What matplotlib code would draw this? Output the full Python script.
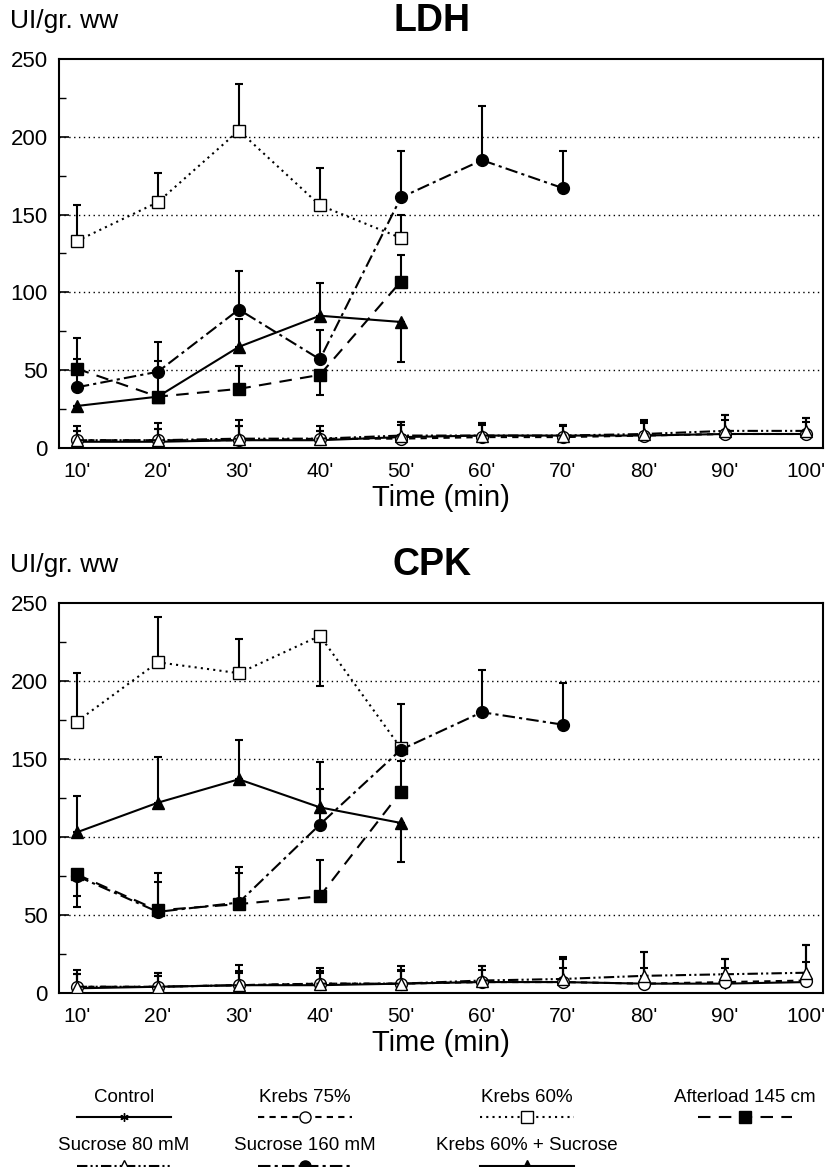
import matplotlib
matplotlib.use("Agg")
import matplotlib.pyplot as plt
import numpy as np

# LDH / CPK release over time, 7 perfusion groups

# time points (min)
t_all = [10, 20, 30, 40, 50, 60, 70, 80, 90, 100]
t_50 = [10, 20, 30, 40, 50]
t_70 = [10, 20, 30, 40, 50, 60, 70]
tick_labels = ["10'", "20'", "30'", "40'", "50'", "60'", "70'", "80'", "90'", "100'"]

# LDH (signed error: + drawn up, - drawn down)
ldh_control = [4, 4, 5, 5, 7, 8, 8, 8, 9, 9]
ldh_control_err = [7, 8, 9, 6, 8, 7, 6, 8, 9, 8]
ldh_krebs75 = [5, 5, 5, 6, 6, 7, 7, 8, 9, 9]
ldh_krebs75_err = [9, 11, 13, 8, 11, 9, 8, 10, 12, 10]
ldh_suc80 = [5, 5, 6, 6, 8, 8, 8, 9, 11, 11]
ldh_suc80_err = [6, 7, 8, 5, 9, 8, 7, 8, 10, 8]
ldh_krebs60 = [133, 158, 204, 156, 135]
ldh_krebs60_err = [23, 19, 30, 24, 15]
ldh_after = [51, 33, 38, 47, 107]
ldh_after_err = [6, 0, 15, -13, 17]
ldh_suc160 = [39, 49, 89, 57, 161, 185, 167]
ldh_suc160_err = [32, 19, 25, 19, 30, 35, 24]
ldh_k60suc = [27, 33, 65, 85, 81]
ldh_k60suc_err = [0, 23, 18, 21, -26]

# CPK
cpk_control = [3, 4, 5, 5, 6, 7, 7, 6, 6, 7]
cpk_control_err = [9, 9, 8, 9, 9, 8, 9, 10, 10, 13]
cpk_krebs75 = [4, 4, 5, 6, 6, 7, 7, 6, 7, 8]
cpk_krebs75_err = [11, 9, 13, 10, 11, 10, 16, 20, 15, 23]
cpk_suc80 = [4, 4, 5, 6, 6, 8, 9, 11, 12, 13]
cpk_suc80_err = [8, 7, 9, 7, 8, 9, 13, 15, 10, 18]
cpk_krebs60 = [174, 212, 205, 229, 157]
cpk_krebs60_err = [31, 29, 22, -32, 0]
cpk_after = [76, 53, 57, 62, 129]
cpk_after_err = [-14, 18, 20, 23, 20]
cpk_suc160 = [75, 52, 58, 108, 156, 180, 172]
cpk_suc160_err = [-20, 25, 23, 23, 29, 27, 27]
cpk_k60suc = [103, 122, 137, 119, 109]
cpk_k60suc_err = [23, 29, 25, 29, -25]

# series styles: label, linestyle, marker, facecolor
styles = {
    "control": ("Control", "-", (6, 2, 0), "k"),
    "krebs75": ("Krebs 75%", (0, (3, 2.5)), "o", "white"),
    "krebs60": ("Krebs 60%", (0, (1, 2)), "s", "white"),
    "after": ("Afterload 145 cm", (0, (6, 4)), "s", "k"),
    "suc80": ("Sucrose 80 mM", (0, (5, 1.5, 1, 1.5, 1, 1.5)), "^", "white"),
    "suc160": ("Sucrose 160 mM", (0, (6, 2, 1.5, 2)), "o", "k"),
    "k60suc": ("Krebs 60% + Sucrose", "-", "^", "k"),
}

plt.rcParams['font.family'] = ["Liberation Sans", "DejaVu Sans"]

W, H = 826, 1167
fig = plt.figure(figsize=(W / 100, H / 100), dpi=100)


def pax(x0, y0, x1, y1):
    # pixel box -> figure axes
    return fig.add_axes([x0 / W, 1 - y1 / H, (x1 - x0) / W, (y1 - y0) / H])


def draw_series(ax, key, t, y, err, lw=1.5):
    label, ls, mk, fc = styles[key]
    err = np.array(err, dtype=float)
    up = np.where(err > 0, err, 0)
    dn = np.where(err < 0, -err, 0)
    ax.errorbar(t, y, yerr=[dn, up], fmt="none", ecolor="k", elinewidth=1.5,
                capsize=3, capthick=1.5, zorder=3)
    ms = 8.5 if mk != (6, 2, 0) else 7
    ax.plot(t, y, linestyle=ls, color="k", lw=lw, marker=mk, markersize=ms,
            markerfacecolor=fc, markeredgecolor="k", markeredgewidth=1, zorder=4)


def panel(box, title, data):
    ax = pax(*box)
    for key, t, y, e in data:
        draw_series(ax, key, t, y, e)
    ax.set_xlim(7.8, 102.1)
    ax.set_ylim(0, 250)
    ax.set_yticks([0, 50, 100, 150, 200, 250])
    ax.set_yticks([25, 75, 125, 175, 225], minor=True)
    ax.set_xticks(t_all)
    ax.set_xticklabels(tick_labels, fontsize=15)
    ax.tick_params(axis="y", direction="in", length=7, width=1.2, labelsize=16, pad=8)
    ax.tick_params(axis="y", which="minor", direction="in", length=5, width=1)
    ax.tick_params(axis="x", length=0, pad=10)
    for yg in [50, 100, 150, 200]:
        ax.axhline(yg, color="k", lw=1, ls=(0, (1, 2.5)), zorder=1)
    for s in ax.spines.values():
        s.set_linewidth(1.5)
    ax.set_xlabel("Time (min)", fontsize=21, labelpad=2)
    y0 = box[1]
    fig.text(10 / W, 1 - (y0 - 38) / H, "UI/gr. ww", fontsize=19, va="center", ha="left")
    fig.text(432 / W, 1 - (y0 - 38) / H, title, fontsize=27, fontweight="bold",
             va="center", ha="center")
    return ax


ldh_data = [
    ("control", t_all, ldh_control, ldh_control_err),
    ("krebs75", t_all, ldh_krebs75, ldh_krebs75_err),
    ("suc80", t_all, ldh_suc80, ldh_suc80_err),
    ("krebs60", t_50, ldh_krebs60, ldh_krebs60_err),
    ("after", t_50, ldh_after, ldh_after_err),
    ("suc160", t_70, ldh_suc160, ldh_suc160_err),
    ("k60suc", t_50, ldh_k60suc, ldh_k60suc_err),
]
cpk_data = [
    ("control", t_all, cpk_control, cpk_control_err),
    ("krebs75", t_all, cpk_krebs75, cpk_krebs75_err),
    ("suc80", t_all, cpk_suc80, cpk_suc80_err),
    ("krebs60", t_50, cpk_krebs60, cpk_krebs60_err),
    ("after", t_50, cpk_after, cpk_after_err),
    ("suc160", t_70, cpk_suc160, cpk_suc160_err),
    ("k60suc", t_50, cpk_k60suc, cpk_k60suc_err),
]

panel((59, 59, 823, 448), "LDH", ldh_data)
panel((59, 603, 823, 993), "CPK", cpk_data)

# legend: label above a line sample, 4 columns x 2 rows
lg = pax(0, 1070, W, H)
lg.set_xlim(0, W)
lg.set_ylim(H, 1070)
lg.axis("off")
leg_rows = [["control", "krebs75", "krebs60", "after"],
            ["suc80", "suc160", "k60suc"]]
col_x = [124, 305, 527, 745]
row_y = [1097, 1146]
for r, keys in enumerate(leg_rows):
    for c, key in enumerate(keys):
        label, ls, mk, fc = styles[key]
        cx, cy = col_x[c], row_y[r]
        lg.text(cx, cy, label, fontsize=13.5, ha="center", va="center")
        ms = 6 if mk == (6, 2, 0) else 8
        lg.plot([cx - 47, cx, cx + 47], [cy + 20, cy + 20, cy + 20], color="k",
                lw=1.5, ls=ls, marker=mk, markevery=[1], markersize=ms,
                markerfacecolor=fc, markeredgecolor="k", clip_on=False)

fig.savefig("out.png", dpi=100)
